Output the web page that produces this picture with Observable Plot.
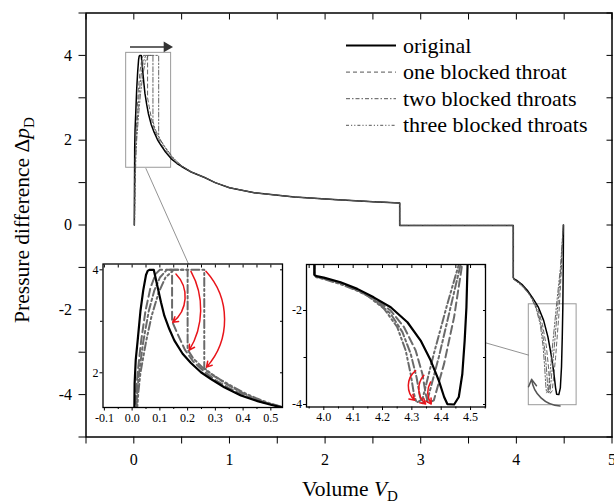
<!DOCTYPE html>
<html><head><meta charset="utf-8">
<script src="https://cdn.jsdelivr.net/npm/d3@7"></script>
<script src="https://cdn.jsdelivr.net/npm/@observablehq/plot@0.6"></script>
<style>
body{margin:0;background:#fff;}
#wrap{position:relative;width:614px;height:504px;}
#wrap svg{position:absolute;}
</style></head><body><div id="wrap"></div>
<script>
// ---------- data ----------
const seriesNames = ["original", "one blocked throat", "two blocked throats", "three blocked throats"];

// drainage peak (left part)
const origLeftV = [0.005, 0.008, 0.009, 0.013, 0.02, 0.03, 0.04, 0.05, 0.056, 0.062, 0.078, 0.083, 0.092, 0.104, 0.116, 0.134, 0.152, 0.182, 0.212, 0.248, 0.284, 0.332, 0.392, 0.452, 0.5];
const origLeftP = [0, 1.3, 1.8, 2.25, 2.63, 3.2, 3.6, 3.9, 3.98, 4.0, 4.0, 3.88, 3.66, 3.37, 3.11, 2.85, 2.63, 2.37, 2.19, 2.01, 1.88, 1.72, 1.56, 1.45, 1.38];
const oneLeftV = [0.006, 0.01, 0.014, 0.02, 0.032, 0.048, 0.066, 0.085, 0.1, 0.144, 0.144, 0.16, 0.19, 0.22, 0.26, 0.30, 0.35, 0.40, 0.45, 0.5];
const oneLeftP = [0, 1.0, 1.6, 2.0, 2.6, 3.2, 3.65, 3.92, 4.0, 4.0, 3.0, 2.8, 2.45, 2.22, 2.02, 1.86, 1.70, 1.57, 1.46, 1.39];
const twoLeftV = [0.007, 0.012, 0.018, 0.025, 0.04, 0.06, 0.08, 0.10, 0.125, 0.20, 0.20, 0.22, 0.26, 0.30, 0.35, 0.40, 0.45, 0.5];
const twoLeftP = [0, 1.0, 1.6, 2.0, 2.6, 3.2, 3.6, 3.85, 4.0, 4.0, 2.45, 2.28, 2.07, 1.92, 1.75, 1.6, 1.48, 1.39];
const threeLeftV = [0.008, 0.014, 0.022, 0.03, 0.05, 0.07, 0.095, 0.12, 0.15, 0.26, 0.26, 0.28, 0.32, 0.36, 0.40, 0.45, 0.5];
const threeLeftP = [0, 1.0, 1.6, 2.0, 2.6, 3.1, 3.55, 3.85, 4.0, 4.0, 2.1, 2.0, 1.86, 1.74, 1.62, 1.5, 1.4];

// shared middle part
const midV = [0.6, 0.74, 0.85, 1.0, 1.26, 1.68, 2.09, 2.5, 2.78, 2.78, 3.968];
const midP = [1.25, 1.12, 1.0, 0.88, 0.76, 0.66, 0.60, 0.55, 0.52, -0.01, -0.01];

// imbibition trough (right part)
const origRightV = [3.968, 3.975, 4.0, 4.057, 4.114, 4.17, 4.228, 4.285, 4.33, 4.364, 4.392, 4.41, 4.421, 4.444, 4.46, 4.472, 4.48, 4.486, 4.49, 4.493];
const origRightP = [-1.24, -1.27, -1.30, -1.40, -1.54, -1.72, -1.93, -2.25, -2.64, -3.06, -3.49, -3.84, -3.99, -4.0, -3.84, -3.35, -2.64, -1.93, -1.0, 0];
const oneRightV = [3.968, 3.975, 4.0, 4.057, 4.114, 4.17, 4.228, 4.273, 4.313, 4.336, 4.347, 4.355, 4.375, 4.41, 4.444, 4.472, 4.49];
const oneRightP = [-1.24, -1.28, -1.31, -1.41, -1.56, -1.74, -2.0, -2.35, -2.85, -3.35, -3.77, -3.97, -3.91, -3.13, -2.14, -1.0, 0];
const twoRightV = [3.968, 3.975, 4.0, 4.057, 4.114, 4.17, 4.228, 4.268, 4.296, 4.316, 4.328, 4.336, 4.353, 4.392, 4.432, 4.467, 4.49];
const twoRightP = [-1.24, -1.29, -1.32, -1.42, -1.57, -1.76, -2.07, -2.46, -2.92, -3.42, -3.84, -3.97, -3.91, -2.99, -1.93, -1.0, 0];
const threeRightV = [3.968, 3.975, 4.0, 4.057, 4.114, 4.148, 4.205, 4.25, 4.279, 4.296, 4.307, 4.316, 4.336, 4.375, 4.421, 4.461, 4.49];
const threeRightP = [-1.24, -1.29, -1.33, -1.44, -1.58, -1.68, -1.96, -2.35, -2.85, -3.35, -3.77, -3.96, -3.89, -2.92, -1.86, -1.0, 0];

// annotations (data coordinates)
const boxX1 = [-0.08, 4.13], boxX2 = [0.39, 4.63], boxY1 = [1.35, -4.25], boxY2 = [4.06, -1.87];
const connX1 = [0.125, 3.68], connY1 = [1.34, -2.78], connX2 = [0.574, 4.13], connY2 = [-0.93, -3.07];
const shiftArrow = {x1: -0.04, x2: 0.345, y: 4.2};
const returnArrow = {x1: 4.457, y1: -4.27, x2: 4.16, y2: -3.64};
const redA_x1 = [0.158, 0.212, 0.266], redA_y1 = [3.92, 3.97, 3.97], redA_x2 = [0.146, 0.206, 0.268], redA_y2 = [2.98, 2.44, 2.11], redA_bend = [48, 30, 42];
const redB_x1 = [4.313, 4.341, 4.364], redB_y1 = [-3.28, -3.38, -3.52], redB_x2 = [4.31, 4.347, 4.366], redB_y2 = [-3.91, -3.99, -3.99], redB_bend = [-50, -45, -30];

// ticks
const xMajor = [0, 1, 2, 3, 4, 5], xMinor = [-0.5, 0.5, 1.5, 2.5, 3.5, 4.5];
const yMajor = [-4, -2, 0, 2, 4], yMinor = [-5, -3, -1, 1, 3, 5];
const in1XMajor = [-0.1, 0.0, 0.1, 0.2, 0.3, 0.4, 0.5], in1XMinor = [-0.05, 0.05, 0.15, 0.25, 0.35, 0.45];
const in1YMajor = [2, 4], in1YMinor = [3];
const in2XMajor = [4.0, 4.1, 4.2, 4.3, 4.4, 4.5], in2XMinor = [3.95, 4.05, 4.15, 4.25, 4.35, 4.45, 4.55];
const in2YMajor = [-2, -4], in2YMinor = [-3];

// ---------- build tables ----------
const zip = (vs, ps) => vs.map((v, i) => ({V: v, P: ps[i]}));
const mid = zip(midV, midP);
const curves = [
  [...zip(origLeftV, origLeftP), ...mid, ...zip(origRightV, origRightP)],
  [...zip(oneLeftV, oneLeftP), ...mid, ...zip(oneRightV, oneRightP)],
  [...zip(twoLeftV, twoLeftP), ...mid, ...zip(twoRightV, twoRightP)],
  [...zip(threeLeftV, threeLeftP), ...mid, ...zip(threeRightV, threeRightP)]
];
const gray = "#6a6a6a";
const mainDash = [null, "4,3", "5,2,1.5,2", "5,2,1.5,2,1.5,2"];
const insetDash = [null, "8,4", "8,3,2.5,3", "8,3,2,3,2,3"];
const legendDash = [null, "4,3", "4,2,1.5,2", "3,2,1.2,2,1.2,2"];
const fam = "'Liberation Serif', 'Times New Roman', serif";
const fmt1 = d => d.toFixed(1);
const fmt0 = d => String(d);
const noText = () => "";

const boxes = boxX1.map((d, i) => ({x1: d, x2: boxX2[i], y1: boxY1[i], y2: boxY2[i]}));
const conns = connX1.map((d, i) => ({x1: d, y1: connY1[i], x2: connX2[i], y2: connY2[i]}));

function curveMarks(mainPlot) {
  const marks = [];
  const order = mainPlot ? [0, 1, 2, 3] : [1, 2, 3, 0];
  for (const i of order) {
    marks.push(Plot.line(curves[i], {
      x: "V", y: "P", clip: true,
      stroke: i === 0 ? "#000" : (mainPlot ? "#555" : gray),
      strokeWidth: i === 0 ? (mainPlot ? 1.5 : 2.2) : (mainPlot ? 0.9 : 2),
      strokeDasharray: i === 0 ? null : (mainPlot ? mainDash[i] : insetDash[i])
    }));
  }
  return marks;
}

// ---------- main plot ----------
const main = Plot.plot({
  width: 614, height: 504,
  marginTop: 12.5, marginRight: 2.5, marginBottom: 67.5, marginLeft: 85.5,
  x: {domain: [-0.5, 5]},
  y: {domain: [-5, 5]},
  style: {fontFamily: fam, fontSize: "16px", color: "#000", background: "transparent", overflow: "visible"},
  marks: [
    Plot.axisX(xMinor, {tickSize: 7, tickFormat: noText, label: null}),
    Plot.axisX(xMajor, {tickSize: 7, tickPadding: 10, tickFormat: fmt0, label: null}),
    Plot.axisX([...xMajor, ...xMinor], {anchor: "top", tickSize: -6, tickFormat: noText, label: null}),
    Plot.axisY(yMinor, {tickSize: 7, tickFormat: noText, label: null}),
    Plot.axisY(yMajor, {tickSize: 7, tickPadding: 7, tickFormat: fmt0, label: null}),
    Plot.axisY([...yMajor, ...yMinor], {anchor: "right", tickSize: -6, tickFormat: noText, label: null}),
    Plot.rect(boxes, {x1: "x1", x2: "x2", y1: "y1", y2: "y2", fill: "none", stroke: "#9a9a9a", strokeWidth: 1}),
    Plot.link(conns, {x1: "x1", y1: "y1", x2: "x2", y2: "y2", stroke: "#777", strokeWidth: 0.8}),
    ...curveMarks(true),
    Plot.link([shiftArrow], {x1: "x1", x2: "x2", y1: "y", y2: "y", stroke: "#333", strokeWidth: 1.5}),
    Plot.dot([shiftArrow], {x: "x2", y: "y", symbol: "triangle", rotate: 90, r: 4, fill: "#333", stroke: null}),
    Plot.arrow([returnArrow], {x1: "x1", y1: "y1", x2: "x2", y2: "y2", bend: 40, stroke: "#555", strokeWidth: 1.5, headLength: 8}),
    Plot.frame({stroke: "#000", strokeWidth: 1.5})
  ]
});
main.style.left = "0px"; main.style.top = "0px";

// axis titles and legend as real text
const svg = d3.select(main);
const yt = svg.append("text").attr("transform", "translate(29,220) rotate(-90)")
  .attr("text-anchor", "middle").attr("font-family", fam).attr("font-size", 21.5).attr("fill", "#000");
yt.append("tspan").text("Pressure difference \u0394");
yt.append("tspan").attr("font-style", "italic").text("p");
yt.append("tspan").attr("font-size", 15).attr("dy", 5).text("D");
const xt = svg.append("text").attr("x", 350).attr("y", 496)
  .attr("text-anchor", "middle").attr("font-family", fam).attr("font-size", 21.5).attr("fill", "#000");
xt.append("tspan").text("Volume ");
xt.append("tspan").attr("font-style", "italic").text("V");
xt.append("tspan").attr("font-size", 15).attr("dy", 5).text("D");

const lg = svg.append("g").attr("font-family", fam).attr("font-size", 22).attr("fill", "#000").attr("text-anchor", "start");
seriesNames.forEach((name, i) => {
  const yc = 45.5 + i * 26.6;
  lg.append("line").attr("x1", 346).attr("x2", 396).attr("y1", yc).attr("y2", yc)
    .attr("stroke", i === 0 ? "#000" : "#555").attr("stroke-width", i === 0 ? 2 : 1)
    .attr("stroke-dasharray", legendDash[i]);
  lg.append("text").attr("x", 403).attr("y", yc + 7).attr("text-anchor", "start").text(name);
});

document.getElementById("wrap").appendChild(main);

// ---------- insets ----------
const redA = redA_x1.map((d, i) => ({x1: d, y1: redA_y1[i], x2: redA_x2[i], y2: redA_y2[i], bend: redA_bend[i]}));
const redB = redB_x1.map((d, i) => ({x1: d, y1: redB_y1[i], x2: redB_x2[i], y2: redB_y2[i], bend: redB_bend[i]}));
function redArrows(list) {
  return list.map(a => Plot.arrow([a], {x1: "x1", y1: "y1", x2: "x2", y2: "y2", bend: a.bend, stroke: "#e8141a", strokeWidth: 1.5, headLength: 6}));
}

function inset(opts) {
  return Plot.plot({
    width: opts.w, height: opts.h,
    marginLeft: opts.ml, marginRight: opts.mr, marginTop: opts.mt, marginBottom: opts.mb,
    x: {domain: opts.xd}, y: {domain: opts.yd},
    style: {fontFamily: fam, fontSize: "12px", color: "#000", background: "transparent", overflow: "visible"},
    marks: [
      Plot.frame({fill: "#fff", stroke: null}),
      Plot.axisX(opts.xMinor, {tickSize: 2, tickFormat: noText, label: null}),
      Plot.axisX(opts.xMajor, {tickSize: 3.5, tickPadding: 2, tickFormat: fmt1, label: null}),
      Plot.axisX([...opts.xMajor, ...opts.xMinor], {anchor: "top", tickSize: -3, tickFormat: noText, label: null}),
      Plot.axisY(opts.yMinor, {tickSize: 2.5, tickFormat: noText, label: null}),
      Plot.axisY(opts.yMajor, {tickSize: 3, tickPadding: 1.5, tickFormat: fmt0, label: null}),
      Plot.axisY([...opts.yMajor, ...opts.yMinor], {anchor: "right", tickSize: -3, tickFormat: noText, label: null}),
      ...curveMarks(false),
      ...redArrows(opts.red),
      Plot.frame({stroke: "#000", strokeWidth: 1.3})
    ]
  });
}

const in1 = inset({w: 210, h: 180, ml: 22.5, mr: 8, mt: 13.5, mb: 23,
  xd: [-0.105, 0.542], yd: [1.326, 4.113],
  xMajor: in1XMajor, xMinor: in1XMinor, yMajor: in1YMajor, yMinor: in1YMinor, red: redA});
in1.style.left = "80px"; in1.style.top = "250px";
const in2 = inset({w: 205, h: 180, ml: 21, mr: 5, mt: 14, mb: 23.5,
  xd: [3.941, 4.551], yd: [-4.053, -1.021],
  xMajor: in2XMajor, xMinor: in2XMinor, yMajor: in2YMajor, yMinor: in2YMinor, red: redB});
in2.style.left = "285px"; in2.style.top = "250px";
document.getElementById("wrap").appendChild(in1);
document.getElementById("wrap").appendChild(in2);
</script></body></html>
